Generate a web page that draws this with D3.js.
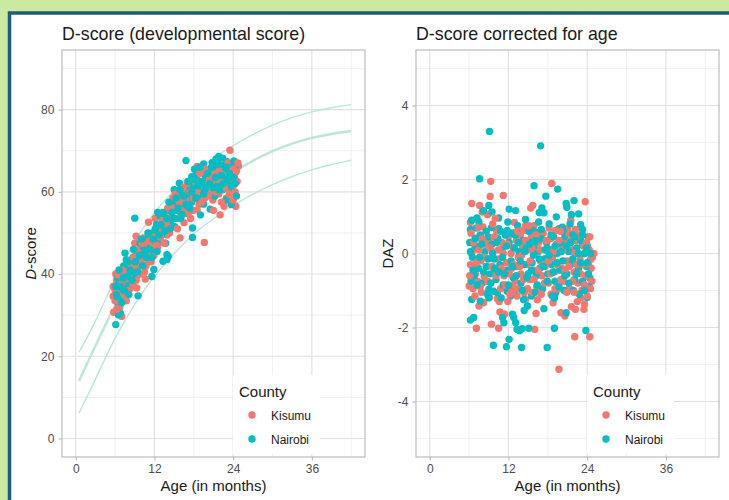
<!DOCTYPE html>
<html>
<head>
<meta charset="utf-8">
<script src="https://cdn.jsdelivr.net/npm/d3@7"></script>
<style>
  body { margin: 0; background: #cce9a2; }
  svg { display: block; font-family: "Liberation Sans", Arial, sans-serif; }
</style>
</head>
<body>
<svg id="chart" width="729" height="500"></svg>
<script>
// ---- data ----
const counties = ["Kisumu", "Nairobi"];
const countyColors = ["#F8766D", "#00BFC4"];
const ageTicks = [0, 12, 24, 36];
const dscoreTicks = [0, 20, 40, 60, 80];
const dazTicks = [-4, -2, 0, 2, 4];

// reference centiles (age in months)
const refAge    = [0.5, 2.75, 5, 6, 9, 12, 15, 18, 21, 24, 27, 30, 33, 36, 39, 42];
const refUpper  = [21, 27.5, 35.5, 39, 48.3, 55.3, 60.5, 64.8, 68.3, 71.3, 74, 76.3, 78.1, 79.5, 80.5, 81.2];
const refMedian = [14, 21.8, 29.2, 32.5, 41.3, 48.5, 53.5, 58, 61.8, 64.8, 67.6, 70, 71.8, 73.2, 74.1, 74.8];
const refLower  = [6.2, 13.5, 21.3, 24.5, 33, 39.7, 45, 50, 53.5, 56.7, 59.5, 61.8, 63.8, 65.4, 66.7, 67.7];

// [age, D-score]
const kisumuDscore = [
  [23.5,70.1],[24.8,66.3],[18.5,66.2],[24.3,62.5],[24.1,61.7],[23.5,60.1],[24.4,56.5],[22.0,54.4],[18.5,55.6],[19.6,47.7],
  [11.1,52.6],[9.2,49.2],[10.3,48.8],[15.9,48.8],[5.8,30.7],[7.0,29.7],[9.3,36.6],[10.6,38.8],[5.7,37.0],[5.7,34.6],
  [6.0,36],[6.2,38.5],[6.4,33],[6.6,35.5],[6.8,39.5],[7.0,34],[7.2,37],[7.4,40.5],[7.6,35.5],[7.9,38],[8.1,41.5],[6.3,31.5],[8.3,36.5],[6.1,40],
  [8.6,42],[8.9,39.5],[9.1,44.5],[9.4,41],[9.7,46],[10.0,42.5],[10.2,45],[10.5,40.5],[10.8,47],[11.0,43.5],[9.0,47.5],[11.3,45.5],
  [11.6,48.5],[11.9,44.5],[12.2,50],[12.5,46.5],[12.8,52],[13.0,48],[13.3,50.5],[13.6,54],[13.9,49.5],[12.1,53.5],[14.1,52],
  [14.4,55.5],[14.7,51.5],[15.0,57],[15.3,53.5],[15.6,59],[15.9,55],[16.2,57.5],[16.5,52.5],[16.8,60],[17.0,56],[14.8,58.5],
  [17.3,58.5],[17.6,62],[17.9,55.5],[18.2,59.5],[18.5,63],[18.8,57],[19.1,61],[19.4,64.5],[19.7,58.5],[20.0,62],[17.5,53.5],
  [20.3,60],[20.6,64],[20.9,58],[21.2,62.5],[21.5,66],[21.8,59.5],[22.1,63],[22.4,61],[22.7,65],[23.0,58.5],[23.3,62.5],
  [23.6,64.5],[23.9,60],[24.2,63.5],[24.5,65],[22.6,56.5],[21.0,55.5],[24.0,58],[23.2,67],
  [6.0,33.5],[6.3,36.8],[6.5,39.8],[6.7,32],[6.9,37.5],[7.1,41],[7.3,35],[7.5,38.8],[7.7,33.5],[7.8,40.5],[8.0,36],[8.2,39],
  [8.5,41.5],[8.7,37.5],[8.8,44],[9.0,42],[9.2,38.5],[9.4,45.5],[9.6,43],[9.8,40],[10.1,47.5],[10.4,44],[10.7,42],[10.9,45],
  [11.2,48],[11.5,43],[11.7,46.5],[12.0,49],[12.3,47],[12.6,51],[12.9,49],[13.2,53],[13.5,47.5],[13.8,52],[14.0,56],[14.3,50],
  [14.6,54],[14.9,56],[15.2,59.5],[15.5,51],[15.8,57.5],[16.1,55.5],[16.4,61],[16.7,58],[17.0,62],[17.2,55],[17.6,60],
  [17.9,58.5],[18.2,62.5],[18.6,60],[18.9,64.5],[19.2,57.5],[19.5,61.5],[19.8,65.5],[20.1,59],[20.4,63],[20.7,60.5],[21.0,64.5],
  [21.3,60],[21.6,63],[21.9,65],[22.2,57.5],[22.5,63],[22.8,61],[23.1,64],[23.4,59.5],[23.7,62],[24.0,65.5],[24.3,60],[24.6,62.5],[24.7,67]
];
const nairobiDscore = [
  [16.8,67.6],[19.5,66.8],[21.8,68.6],[22.4,68.2],[23.0,67.4],[20.8,67.1],[24.3,64.6],[15.8,62.1],[17.7,63.7],[19.5,64.6],
  [23.7,56.9],[20.5,55.8],[17.8,51.2],[9.0,53.6],[15.9,56.5],[16.9,54.8],[12.8,50.8],[12.3,48.8],[17.8,48.9],[6.1,27.7],
  [6.5,30.1],[6.8,30.5],[6.5,32.6],[9.5,34.7],[11.6,39.4],[11.9,41.1],[13.3,43.1],[13.9,44.7],[7.5,45.1],[13.9,43.5],[14.1,44.3],[19.0,54.4],
  [6.2,35],[6.5,37.5],[6.7,34],[6.9,40],[7.1,36.5],[7.3,42],[7.6,38.5],[7.8,41],[8.0,37],[8.2,43],[8.4,39.5],[6.4,39],
  [8.7,44],[8.9,41],[9.2,45.5],[9.5,42.5],[9.8,47.5],[10.0,44],[10.3,46],[10.6,42],[10.9,48.5],[11.1,45],[11.4,47],[9.3,39.5],
  [11.7,50],[12.0,46],[12.3,52],[12.6,48],[12.9,54],[13.1,49.5],[13.4,52.5],[13.7,47.5],[14.0,55.5],[14.2,50.5],[12.5,55],
  [14.5,53],[14.8,57],[15.1,51.5],[15.4,55.5],[15.7,59.5],[16.0,53.5],[16.3,58],[16.6,61],[16.9,56.5],[17.2,59],[15.0,60.5],
  [17.4,61.5],[17.7,57.5],[18.0,60.5],[18.3,64],[18.6,58.5],[18.9,62.5],[19.2,60],[19.5,57],[19.8,63.5],[18.1,65.5],[20.0,60],
  [20.3,65],[20.6,61.5],[20.9,63.5],[21.2,59],[21.5,65.5],[21.8,62],[22.1,66.5],[22.4,60.5],[22.7,63.5],[23.0,65.5],[23.3,61],
  [23.6,66],[23.9,62.5],[24.2,60],[24.4,66.5],[22.9,58],[21.4,68],[24.1,67.5],
  [6.1,37],[6.3,34.5],[6.6,41],[6.8,37],[7.0,33],[7.2,39],[7.4,36],[7.7,43.5],[7.9,39.5],[8.1,35],[8.3,41],[8.6,38.5],[8.8,46],
  [9.1,43],[9.4,40.5],[9.7,44.5],[10.0,48.5],[10.2,42],[10.5,45],[10.8,44],[11.0,50],[11.3,46],[11.6,44],[11.8,48.5],
  [12.1,51],[12.4,45.5],[12.7,49.5],[13.0,52],[13.3,55],[13.6,50.5],[13.9,53.5],[14.2,57.5],[14.4,51],[14.7,55],
  [15.0,53.5],[15.3,58.5],[15.6,56],[15.9,60.5],[16.2,54.5],[16.5,59],[16.8,57],[17.1,62.5],[17.4,56],[17.7,60],
  [18.0,63],[18.3,58.5],[18.6,61.5],[18.9,66],[19.2,62.5],[19.5,59.5],[19.8,61],[20.1,64.5],[20.4,62],[20.7,66],[21.0,61],
  [21.3,63.5],[21.6,67],[21.9,60.5],[22.2,64],[22.5,62],[22.8,66],[23.1,63],[23.4,64.5],[23.7,61.5],[24.0,63.5],[24.3,62],[24.5,59]
];

// [age, DAZ]
const kisumuDaz = [
  [9.3,1.95],[18.6,1.89],[11.2,1.57],[9.2,1.54],[23.7,1.40],[6.4,1.35],[7.6,1.30],[15.7,1.30],[15.4,1.23],[8.0,1.12],
  [8.8,1.05],[21.5,0.90],[6.2,0.84],[12.9,0.84],[14.6,0.75],[15.9,0.75],[21.0,0.67],[22.2,0.65],[18.2,0.69],[12.8,0.56],
  [13.8,0.51],[6.2,0.30],[25.0,0.0],[6.4,0.0],[6.2,-0.30],[6.5,-0.34],[6.0,-0.88],[7.1,-2.02],[9.4,-1.91],[10.5,-2.02],
  [10.7,-1.58],[11.4,-1.64],[16.0,-2.05],[19.7,-3.13],[22.1,-2.25],[24.4,-2.25],[16.2,-1.62],[18.8,-1.33],[20.0,-1.60],[20.6,-1.69],
  [21.6,-1.44],[22.2,-1.51],[23.5,-1.51],[23.6,-1.37],[24.5,-0.16],[7.5,-1.42],[8.2,-1.33],[10.3,-1.22],[13.3,-1.15],[14.4,-1.06],[14.6,-1.24],
  [6.3,0.55],[6.8,0.12],[7.0,-0.55],[7.3,-0.75],[6.6,-0.95],[7.8,-0.2],[7.2,0.42],[8.3,-0.62],[7.9,-1.05],[8.5,0.25],[6.9,-1.15],[8.1,0.72],
  [8.7,-0.35],[9.0,0.35],[9.3,-0.8],[9.6,0.05],[9.9,-0.45],[10.2,0.6],[10.4,-0.15],[10.8,-0.95],[11.0,0.3],[11.3,-0.6],[9.1,-1.18],[10.0,0.95],[10.6,-1.3],
  [11.7,-0.25],[12.0,0.45],[12.2,-1.1],[12.5,-0.4],[12.7,0.15],[13.0,-0.75],[13.2,0.35],[13.5,-0.1],[13.9,-0.55],[14.1,0.2],[12.4,-0.9],[13.6,-0.95],[14.3,0.62],[11.9,-1.3],
  [14.8,-0.3],[15.0,0.1],[15.2,-0.7],[15.5,0.45],[15.8,-0.45],[16.0,0.0],[16.3,-0.9],[16.6,0.3],[16.9,-0.2],[17.1,-0.6],[15.6,-1.05],[17.3,0.55],[16.4,-1.25],
  [17.6,-0.35],[17.9,0.15],[18.1,-0.8],[18.4,0.4],[18.7,-0.1],[19.0,-0.5],[19.3,0.25],[19.6,-0.95],[19.9,0.05],[18.5,-1.1],[20.1,-0.4],[19.2,0.62],
  [20.4,-0.75],[20.7,0.3],[21.0,-0.2],[21.3,-0.95],[21.7,0.1],[22.0,-0.5],[22.3,0.35],[22.6,-0.8],[22.9,-0.15],[23.2,-1.0],[23.4,0.2],
  [23.8,-0.6],[24.1,-0.95],[24.3,0.1],[24.6,-0.4],[23.0,-1.2],[24.0,-1.15],[22.5,-1.3],[21.2,0.55],[24.7,-0.75],
  [6.1,-0.6],[6.7,0.3],[7.1,-0.25],[7.5,0.1],[7.7,-0.9],[8.0,0.4],[8.4,-0.1],[8.8,-0.75],[9.2,0.15],[9.5,-0.35],[9.8,0.45],
  [10.1,-0.6],[10.5,0.1],[10.9,-0.4],[11.2,0.0],[11.5,-0.85],[11.8,0.25],[12.1,-0.55],[12.4,0.0],[12.8,-0.3],[13.1,-0.95],
  [13.4,0.6],[13.7,-0.35],[14.0,-0.05],[14.3,-0.7],[14.6,0.35],[14.9,-0.95],[15.3,-0.2],[15.6,0.15],[15.9,-0.7],[16.2,0.5],
  [16.5,-0.45],[16.8,0.1],[17.2,-0.3],[17.5,-0.8],[17.8,0.35],[18.1,-0.2],[18.4,-0.55],[18.8,0.05],[19.1,-0.95],[19.4,-0.3],
  [19.7,0.35],[20.0,-0.7],[20.3,0.1],[20.6,-0.45],[20.9,-1.05],[21.2,-0.35],[21.5,0.35],[21.8,-0.75],[22.1,0.0],[22.4,-0.3],
  [22.7,0.5],[23.0,-0.55],[23.3,-0.3],[23.6,-0.85],[23.9,0.3],[24.2,-0.3],[24.5,-0.95],[24.8,-0.1],[7.4,0.7],[9.6,0.8],
  [12.6,-1.05],[15.1,0.75],[17.0,-1.1],[19.9,0.6],[22.0,-1.05],[24.4,0.45]
];
const nairobiDaz = [
  [9.1,3.30],[16.9,2.91],[7.6,2.02],[15.9,1.83],[19.5,1.74],[17.7,1.55],[22.0,1.43],[9.0,1.30],[20.8,1.35],[20.9,1.25],
  [17.1,1.23],[12.1,1.20],[13.1,1.16],[22.7,1.07],[21.6,1.05],[8.2,1.16],[9.5,1.12],[16.7,1.11],[17.4,1.10],[19.3,0.99],
  [7.2,0.96],[10.5,0.96],[14.6,0.92],[23.0,0.78],[19.7,0.67],[20.2,0.71],[6.2,0.65],[7.1,0.69],[10.5,0.67],[11.8,0.62],
  [15.7,0.62],[16.4,0.57],[23.3,0.65],[24.0,0.22],[23.3,0.24],[6.4,-1.24],[6.2,-1.80],[6.7,-1.73],[9.7,-2.48],[11.1,-1.73],
  [11.3,-1.87],[12.6,-1.64],[12.8,-1.73],[13.1,-1.87],[13.3,-2.05],[13.7,-2.09],[14.1,-2.03],[12.1,-2.32],[11.7,-2.52],[14.0,-2.54],
  [15.1,-2.02],[17.9,-2.54],[19.0,-2.02],[23.8,-2.08],[14.4,-1.54],[14.9,-1.42],[15.5,-1.15],[17.4,-1.49],[20.8,-1.60],[19.2,-1.06],
  [24.0,-1.19],[24.4,-0.66],[7.7,-1.29],[9.0,-0.97],[9.7,-1.02],[10.3,-1.06],[11.8,-1.02],[12.3,-1.15],
  [6.1,0.3],[6.5,-0.1],[6.8,-0.6],[7.0,0.2],[7.4,-0.4],[7.7,0.5],[8.0,-0.8],[8.4,0.05],[8.6,-0.35],[6.3,-0.75],[7.5,0.85],[8.9,0.45],
  [9.2,-0.55],[9.5,0.25],[9.8,-0.15],[10.1,-0.7],[10.4,0.4],[10.7,-0.3],[11.0,0.1],[11.2,-0.85],[11.5,0.5],[8.8,-1.1],[10.9,-1.2],[9.4,0.7],
  [11.8,-0.45],[12.1,0.3],[12.4,-0.2],[12.7,-0.65],[13.0,0.5],[13.3,-0.35],[13.6,0.05],[13.9,-0.8],[14.2,0.35],[12.9,-1.0],[14.4,-0.3],[13.4,0.75],
  [14.7,0.15],[15.0,-0.55],[15.3,0.3],[15.6,-0.25],[15.9,0.2],[16.2,-0.6],[16.5,0.05],[16.8,-0.4],[17.0,0.4],[16.1,-1.05],[17.2,-0.95],[15.1,0.6],
  [17.5,-0.15],[17.8,0.3],[18.0,-0.55],[18.3,0.1],[18.6,-0.3],[18.9,0.45],[19.1,-0.75],[19.4,0.0],[19.8,-0.45],[18.2,0.8],[20.0,0.25],[18.7,-1.15],
  [20.3,-0.2],[20.6,0.45],[20.9,-0.55],[21.2,0.05],[21.5,-0.3],[21.8,0.5],[22.1,-0.7],[22.4,0.15],[22.7,-0.4],[23.0,0.35],[23.3,-0.75],
  [23.6,0.0],[23.9,-0.35],[24.2,0.45],[21.9,-1.0],[22.8,-1.1],[24.3,-0.9],[20.5,-1.0],
  [6.2,0.05],[6.6,-0.45],[6.9,0.4],[7.2,-0.85],[7.6,-0.1],[7.9,0.25],[8.2,-0.5],[8.6,0.6],[8.9,-0.15],[9.3,-0.8],[9.6,0.0],
  [9.9,-0.4],[10.2,0.3],[10.5,-0.5],[10.8,0.6],[11.1,-0.1],[11.4,-0.55],[11.7,0.2],[12.0,-0.85],[12.3,0.55],[12.6,-0.35],
  [12.9,0.15],[13.2,-0.6],[13.5,0.3],[13.8,-0.2],[14.1,-1.0],[14.5,0.05],[14.8,-0.65],[15.2,0.25],[15.5,-0.45],[15.8,-0.05],
  [16.1,0.35],[16.4,-0.85],[16.7,-0.15],[17.0,0.65],[17.3,-0.35],[17.6,0.1],[17.9,-0.75],[18.2,-0.05],[18.5,0.5],[18.8,-0.5],
  [19.1,0.2],[19.4,-0.25],[19.7,-0.9],[20.0,0.05],[20.3,0.6],[20.6,-0.6],[20.9,0.2],[21.2,-0.8],[21.5,0.3],[21.8,-0.15],
  [22.1,0.45],[22.4,-0.55],[22.7,0.0],[23.0,-0.25],[23.3,0.5],[23.6,-1.0],[23.9,0.15],[24.2,-0.55],[24.5,0.0],[6.4,0.9],
  [9.0,-1.2],[11.9,0.85],[14.3,-1.25],[16.6,0.85],[19.0,-1.2],[21.4,0.8],[24.0,-0.25]
];

// ---- drawing ----
const svg = d3.select("#chart");

// page frame
svg.append("rect").attr("width", 729).attr("height", 500).attr("fill", "#cce9a2");
svg.append("rect").attr("x", 9.5).attr("y", 13).attr("width", 760).attr("height", 520)
  .attr("fill", "#fff").attr("stroke", "#1c5d7c").attr("stroke-width", 3.5);

const color = d3.scaleOrdinal().domain(counties).range(countyColors);

// mix the two groups so neither sits fully on top
function interleave(a, b) {
  const out = [];
  for (let i = 0; i < Math.max(a.length, b.length); i++) {
    if (i < a.length) out.push({ age: a[i][0], v: a[i][1], county: counties[0] });
    if (i < b.length) out.push({ age: b[i][0], v: b[i][1], county: counties[1] });
  }
  return out;
}

function drawPanel(cfg) {
  const left = cfg.left, top = 50, w = 303, h = 407;
  const g = svg.append("g").attr("transform", `translate(${left},${top})`);

  const x = d3.scaleLinear().domain([-2.1, 44.1]).range([0, w]);
  const y = d3.scaleLinear().domain(cfg.yDomain).range([h, 0]);

  g.append("rect").attr("width", w).attr("height", h).attr("fill", "#fff");

  // grid: minor then major
  const grid = g.append("g");
  grid.selectAll(".vmin").data(cfg.xMinor).join("line")
    .attr("x1", d => x(d)).attr("x2", d => x(d)).attr("y1", 0).attr("y2", h)
    .attr("stroke", "#ececec").attr("stroke-width", 0.8);
  grid.selectAll(".hmin").data(cfg.yMinor).join("line")
    .attr("x1", 0).attr("x2", w).attr("y1", d => y(d)).attr("y2", d => y(d))
    .attr("stroke", "#ececec").attr("stroke-width", 0.8);
  grid.selectAll(".vmaj").data(ageTicks).join("line")
    .attr("x1", d => x(d)).attr("x2", d => x(d)).attr("y1", 0).attr("y2", h)
    .attr("stroke", "#e0e0e0").attr("stroke-width", 1.1);
  grid.selectAll(".hmaj").data(cfg.yTicks).join("line")
    .attr("x1", 0).attr("x2", w).attr("y1", d => y(d)).attr("y2", d => y(d))
    .attr("stroke", "#e0e0e0").attr("stroke-width", 1.1);

  // reference curves
  if (cfg.curves) {
    const line = d3.line().curve(d3.curveBasis).x(d => x(d[0])).y(d => y(d[1]));
    cfg.curves.forEach(c => {
      g.append("path").datum(refAge.map((a, i) => [a, c.values[i]]))
        .attr("d", line).attr("fill", "none")
        .attr("stroke", "#aee3cf").attr("stroke-opacity", 0.85)
        .attr("stroke-width", c.width);
    });
  }

  // points
  g.append("g").selectAll("circle").data(interleave(cfg.kisumu, cfg.nairobi)).join("circle")
    .attr("cx", d => x(d.age)).attr("cy", d => y(d.v)).attr("r", 3.7)
    .attr("fill", d => color(d.county));

  // panel border
  g.append("rect").attr("width", w).attr("height", h)
    .attr("fill", "none").attr("stroke", "#bcbcbc").attr("stroke-width", 1.2);

  // axes (plain hyphen for negatives, like the original)
  const fmt = d => String(d);
  const xAxis = g.append("g").attr("transform", `translate(0,${h})`)
    .call(d3.axisBottom(x).tickValues(ageTicks).tickFormat(fmt).tickSize(3.6).tickPadding(4));
  const yAxis = g.append("g")
    .call(d3.axisLeft(y).tickValues(cfg.yTicks).tickFormat(fmt).tickSize(3.6).tickPadding(4));
  [xAxis, yAxis].forEach(a => {
    a.select(".domain").remove();
    a.selectAll(".tick line").attr("stroke", "#bcbcbc").attr("stroke-width", 1.1);
    a.selectAll(".tick text").attr("fill", "#4d4d4d")
      .style("font-family", '"Liberation Sans", Arial, sans-serif').style("font-size", "12px");
  });

  // titles
  svg.append("text").attr("x", left).attr("y", 40)
    .style("font-size", "17.8px").attr("fill", "#1a1a1a").text(cfg.title);
  svg.append("text").attr("x", left + w / 2).attr("y", 491).attr("text-anchor", "middle")
    .style("font-size", "15px").attr("fill", "#1a1a1a").text("Age (in months)");
  const yt = svg.append("text")
    .attr("transform", `translate(${cfg.yTitleX},${top + h / 2}) rotate(-90)`)
    .attr("text-anchor", "middle").style("font-size", "15px").attr("fill", "#1a1a1a");
  cfg.yTitle(yt);

  // legend
  const lg = g.append("g").attr("transform", `translate(${w - 132},325)`);
  lg.append("rect").attr("width", 87).attr("height", 79).attr("fill", "#fff");
  lg.append("text").attr("x", 6).attr("y", 22).style("font-size", "15px").attr("fill", "#1a1a1a").text("County");
  counties.forEach((c, i) => {
    lg.append("circle").attr("cx", 19).attr("cy", 40 + i * 24).attr("r", 3.7).attr("fill", color(c));
    lg.append("text").attr("x", 38).attr("y", 44.5 + i * 24)
      .style("font-size", "12px").attr("fill", "#1a1a1a").text(c);
  });
}

drawPanel({
  left: 62,
  title: "D-score (developmental score)",
  yDomain: [-4.5, 94.5],
  yTicks: dscoreTicks,
  yMinor: [10, 30, 50, 70, 90],
  xMinor: [6, 18, 30, 42],
  kisumu: kisumuDscore,
  nairobi: nairobiDscore,
  curves: [
    { values: refLower, width: 1.4 },
    { values: refUpper, width: 1.4 },
    { values: refMedian, width: 2.4 }
  ],
  yTitleX: 35.5,
  yTitle: t => {
    t.append("tspan").style("font-style", "italic").text("D");
    t.append("tspan").text("-score");
  }
});

drawPanel({
  left: 416,
  title: "D-score corrected for age",
  yDomain: [-5.5, 5.5],
  yTicks: dazTicks,
  yMinor: [-5, -3, -1, 1, 3, 5],
  xMinor: [6, 18, 30, 42],
  kisumu: kisumuDaz,
  nairobi: nairobiDaz,
  curves: null,
  yTitleX: 392.5,
  yTitle: t => t.text("DAZ")
});
</script>
</body>
</html>
